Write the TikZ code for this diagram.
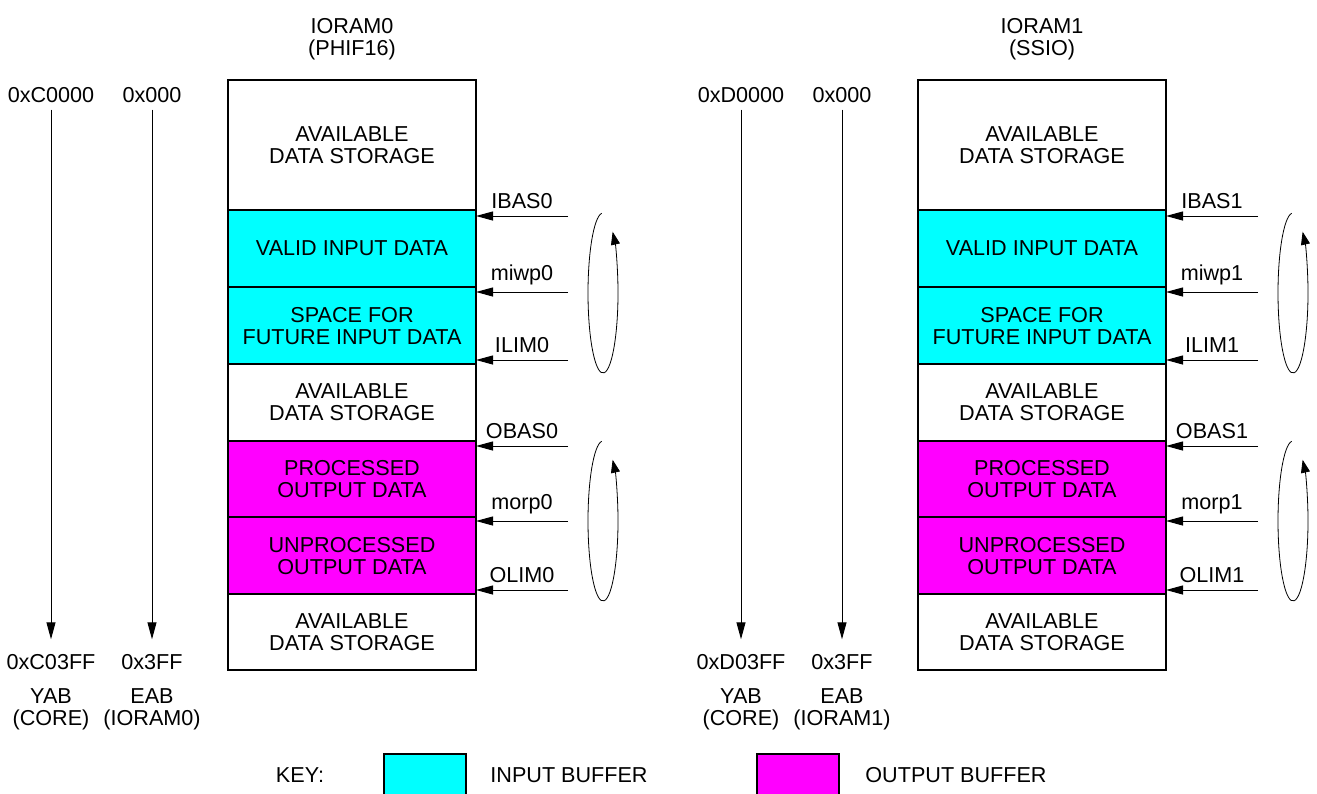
\documentclass[tikz,border=0pt]{standalone}
\usepackage{fontspec}
\setmainfont{Liberation Sans}
\usetikzlibrary{arrows.meta,positioning}
\definecolor{inbuf}{RGB}{0,255,255}
\definecolor{outbuf}{RGB}{255,0,255}

\begin{document}
\begin{tikzpicture}[x=0.5pt, y=-0.5pt, >={Triangle[length=8.5pt,width=4.5pt]},
        font=\fontsize{10.8}{11}\selectfont,
        every node/.style={align=center},
        memrow/.style={draw, line width=1pt, outer sep=0pt, inner sep=0pt,
            minimum width=124pt, minimum height=38.5pt, text depth=-1pt},
        keybox/.style={draw, line width=1pt, minimum width=41pt, minimum height=25pt, anchor=north},
        ptr/.style={->, line width=0.5pt},
        addr/.style={->, line width=0.5pt, shorten >=4pt},
        cycle/.style={-{Triangle[length=6.5pt,width=4.5pt]}, line width=0.4pt}]
    \useasboundingbox (0,0) rectangle (1317,793);

    \foreach \n/\dx/\hi/\sub in {0/0/C/PHIF16, 1/690/D/SSIO} {
        % title of the ram block
        \node (title\n) at (352+\dx, 39) {IORAM\n\\(\sub)};

        % memory map
        \node[memrow, minimum height=65pt, anchor=north] (m\n-a) at (352+\dx, 80) {AVAILABLE\\DATA STORAGE};
        \node[memrow, fill=inbuf, below=0pt of m\n-a] (m\n-b) {VALID INPUT DATA};
        \node[memrow, fill=inbuf, below=0pt of m\n-b] (m\n-c) {SPACE FOR\\FUTURE INPUT DATA};
        \node[memrow, below=0pt of m\n-c] (m\n-d) {AVAILABLE\\DATA STORAGE};
        \node[memrow, fill=outbuf, minimum height=38pt, below=0pt of m\n-d] (m\n-e) {PROCESSED\\OUTPUT DATA};
        \node[memrow, fill=outbuf, below=0pt of m\n-e] (m\n-f) {UNPROCESSED\\OUTPUT DATA};
        \node[memrow, minimum height=38pt, below=0pt of m\n-f] (m\n-g) {AVAILABLE\\DATA STORAGE};

        % address buses
        \node (ytop\n) at (51+\dx, 95) {0x\hi0000};
        \node (ybot\n) at (51+\dx, 662) {0x\hi03FF};
        \node (ybus\n) at (51+\dx, 709) {YAB\\(CORE)};
        \node (etop\n) at (152+\dx, 95) {0x000};
        \node (ebot\n) at (152+\dx, 662) {0x3FF};
        \node (ebus\n) at (152+\dx, 709) {EAB\\(IORAM\n)};
        \draw[addr] (ytop\n) -- (ybot\n);
        \draw[addr] (etop\n) -- (ebot\n);

        % buffer pointers
        \coordinate (ibas\n) at (568+\dx, 216);
        \coordinate (miwp\n) at (568+\dx, 292);
        \coordinate (ilim\n) at (568+\dx, 360);
        \coordinate (obas\n) at (568+\dx, 446);
        \coordinate (morp\n) at (568+\dx, 521);
        \coordinate (olim\n) at (568+\dx, 590);
        \draw[ptr] (ibas\n) -- (ibas\n -| m\n-a.east) node[midway, above] {IBAS\n};
        \draw[ptr] (miwp\n) -- (miwp\n -| m\n-a.east) node[midway, above] {miwp\n};
        \draw[ptr] (ilim\n) -- (ilim\n -| m\n-a.east) node[midway, above] {ILIM\n};
        \draw[ptr] (obas\n) -- (obas\n -| m\n-a.east) node[midway, above] {OBAS\n};
        \draw[ptr] (morp\n) -- (morp\n -| m\n-a.east) node[midway, above] {morp\n};
        \draw[ptr] (olim\n) -- (olim\n -| m\n-a.east) node[midway, above] {OLIM\n};

        % circular buffers
        \draw[cycle] (603+\dx, 293) ++(-95:15 and 80)
            arc[start angle=-95, end angle=-410, x radius=15, y radius=80];
        \draw[cycle] (603+\dx, 521) ++(-95:15 and 80)
            arc[start angle=-95, end angle=-410, x radius=15, y radius=80];
    }

    % key
    \node (key) at (300, 775) {KEY:};
    \node[keybox, fill=inbuf] (keyin) at (425, 753) {};
    \node[anchor=west, inner sep=0pt] (keyintext) at (490, 775) {INPUT BUFFER};
    \node[keybox, fill=outbuf] (keyout) at (798, 753) {};
    \node[anchor=west, inner sep=0pt] (keyouttext) at (865, 775) {OUTPUT BUFFER};
\end{tikzpicture}
\end{document}
